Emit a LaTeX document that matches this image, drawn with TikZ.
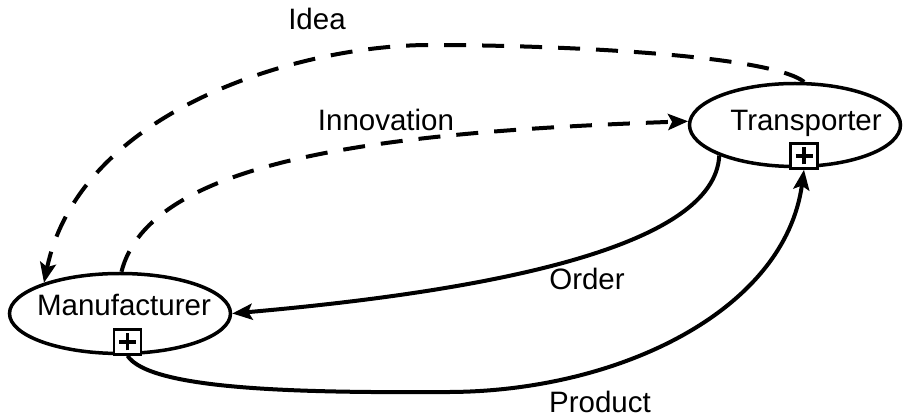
\documentclass[tikz,border=0pt]{standalone}
\usepackage{fontspec}
\setmainfont{Liberation Sans}
\usetikzlibrary{arrows.meta,shapes.geometric}
\begin{document}
\begin{tikzpicture}[x=1pt,y=-1pt,
  actor/.style={ellipse,draw,line width=3.5pt,inner sep=0pt},
  txt/.style={font=\fontsize{29.5}{30}\selectfont,inner sep=0pt,anchor=base},
  plusbox/.style={draw,fill=white,line width=2.5pt,minimum width=27pt,minimum height=25pt,inner sep=0pt,
    path picture={
      \draw[line width=3.2pt] ([xshift=-8.5pt]path picture bounding box.center) -- ([xshift=8.5pt]path picture bounding box.center);
      \draw[line width=3.2pt] ([yshift=-8.5pt]path picture bounding box.center) -- ([yshift=8.5pt]path picture bounding box.center);}},
  flow/.style={line width=4pt,-{Stealth[length=20pt,width=16pt,inset=4pt]}},
  idealine/.style={flow,dash pattern=on 22pt off 16pt}
]
\useasboundingbox (0,0) rectangle (903,419);
% actors
\node[actor,minimum width=221pt,minimum height=80pt] (M) at (120,313.5) {};
\node[actor,minimum width=211pt,minimum height=83pt] (T) at (795,125) {};
\node[txt] (Mt) at (124,316) {Manufacturer};
\node[txt] (Tt) at (806,131) {Transporter};
% connectors
\draw[idealine] (T.78) .. controls (770,55) and (560,45) .. (430,45)
  .. controls (300,45) and (80,110) .. (M.158);
\draw[idealine] (M.88) .. controls (150,160) and (380,132) .. (T.178);
\draw[flow] (T.202) .. controls (715,245) and (500,290) .. (M.east);
% plus boxes
\node[plusbox] (Mp) at (127.5,342) {};
\node[plusbox] (Tp) at (804,156) {};
\draw[flow] (Mp.south) .. controls (150,390) and (300,393) .. (450,392)
  .. controls (620,391) and (785,310) .. (Tp.south);
% labels
\node[txt] (lidea) at (317,30) {Idea};
\node[txt] (linno) at (386,131) {Innovation};
\node[txt] (lorder) at (587,290) {Order};
\node[txt] (lprod) at (600,413) {Product};
\end{tikzpicture}
\end{document}
